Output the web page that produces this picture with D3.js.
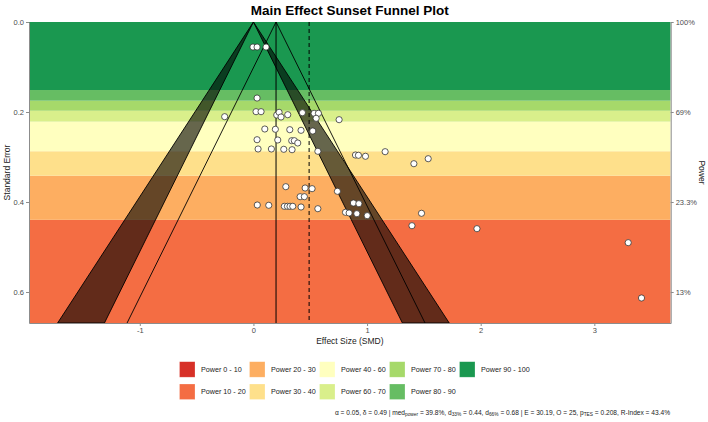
<!DOCTYPE html>
<html><head><meta charset="utf-8">
<script src="https://cdn.jsdelivr.net/npm/d3@7"></script>
<style>
body{margin:0;background:#fff}
svg{display:block;font-family:"Liberation Sans",Arial,Helvetica,sans-serif}
</style>
</head><body>
<svg id="chart" width="708" height="422"></svg>
<script>
// ---------------- data ----------------
const effects = [-0.004,0.032,0.111,0.032,0.023,0.067,-0.253,0.205,0.226,0.243,0.302,0.431,0.534,0.572,0.552,0.754,
  0.100,0.193,0.320,0.419,0.522,0.032,0.214,0.337,0.360,0.390,0.041,0.158,0.267,0.340,0.567,0.898,0.924,0.986,1.159,
  1.412,1.538,0.285,0.455,0.516,0.739,0.411,0.448,0.034,0.135,0.272,0.299,0.322,0.346,0.419,0.567,0.880,0.928,0.810,
  0.842,0.910,1.001,1.479,1.395,1.967,3.298,3.415];
const standardErrors = [0.0556,0.0556,0.0556,0.169,0.1993,0.1993,0.2104,0.2067,0.2007,0.2111,0.206,0.2016,0.2029,0.2029,0.214,0.2171,
  0.2378,0.2384,0.2393,0.2407,0.2422,0.2616,0.2622,0.2638,0.2638,0.2689,0.2822,0.2822,0.2829,0.2838,0.2873,0.2956,0.2962,0.2984,0.2882,
  0.3149,0.3038,0.366,0.3689,0.3704,0.3762,0.3882,0.3882,0.4067,0.4073,0.4096,0.4096,0.4096,0.4096,0.4111,0.4149,0.4022,0.4038,0.4229,
  0.4244,0.426,0.4304,0.4251,0.4527,0.4593,0.4904,0.6133];
const alphaLevel = 0.05;
const trueDelta = 0.49;
const summaryEstimate = 0.199;
const contourZ = [1.959964, 2.575829];
const xTicks = [-1, 0, 1, 2, 3];
const seTicks = [0, 0.2, 0.4, 0.6];
const seTickLabels = ["0.0", "0.2", "0.4", "0.6"];
const powerTickLabels = ["100%", "69%", "23.3%", "13%"];
const bandLabels = ["Power 0 - 10","Power 10 - 20","Power 20 - 30","Power 30 - 40","Power 40 - 60",
  "Power 60 - 70","Power 70 - 80","Power 80 - 90","Power 90 - 100"];
const bandLower = [0, 0.1, 0.2, 0.3, 0.4, 0.6, 0.7, 0.8, 0.9];
const bandUpper = [0.1, 0.2, 0.3, 0.4, 0.6, 0.7, 0.8, 0.9, 1.0];
const bandColors = ["#d73027","#f46d43","#fdae61","#fee08b","#ffffbf","#d9ef8b","#a6d96a","#66bd63","#1a9850"];
const footnote = [
  ["α = 0.05, δ = 0.49 | med", ""], ["power", "sub"], [" = 39.8%, d", ""], ["33%", "sub"], [" = 0.44, d", ""],
  ["66%", "sub"], [" = 0.68 | E = 30.19, O = 25, p", ""], ["TES", "sub"], [" = 0.208, R-Index = 43.4%", ""]
];

// ---------------- helpers ----------------
function erf(x){
  const s = x < 0 ? -1 : 1; x = Math.abs(x);
  const t = 1/(1+0.3275911*x);
  const y = 1 - (((((1.061405429*t - 1.453152027)*t) + 1.421413741)*t - 0.284496736)*t + 0.254829592)*t*Math.exp(-x*x);
  return s*y;
}
const pnorm = x => 0.5*(1+erf(x/Math.SQRT2));
const zcrit = 1.959964;
const power = se => pnorm(trueDelta/se - zcrit) + pnorm(-trueDelta/se - zcrit);
function seAtPower(p){
  if (p >= 1) return 0;
  if (p <= alphaLevel) return Infinity;
  let lo = 1e-6, hi = 100;
  for (let i=0;i<200;i++){ const m=(lo+hi)/2; if (power(m) > p) lo = m; else hi = m; }
  return (lo+hi)/2;
}

// ---------------- layout ----------------
const svg = d3.select("#chart");
const L = 29, R = 670.7, T = 22, B = 323;
const seMax = 0.6689;
const x = d3.scaleLinear().domain([-1.975, 3.672]).range([L, R]);
const y = d3.scaleLinear().domain([0, seMax]).range([T, B]);

const defs = svg.append("defs");
defs.append("clipPath").attr("id","clip").append("rect")
  .attr("x",L).attr("y",T).attr("width",R-L).attr("height",B-T);

const plot = svg.append("g").attr("clip-path","url(#clip)");

// power bands
const bands = bandLabels.map((lab,i)=>({lab, color:bandColors[i],
  se0: seAtPower(bandUpper[i]), se1: Math.min(seAtPower(bandLower[i]), seMax)}));
plot.selectAll("rect.band").data(bands.filter(b=>b.se0 < seMax)).join("rect")
  .attr("class","band")
  .attr("x",L).attr("width",R-L)
  .attr("y",d=>y(d.se0)).attr("height",d=>Math.max(0,y(d.se1)-y(d.se0)))
  .attr("fill",d=>d.color);

// significance contour bands around 0
const sideSigns = [-1, 1];
sideSigns.forEach(s=>{
  const pts = [[0,0],[s*contourZ[0]*seMax,seMax],[s*contourZ[1]*seMax,seMax]];
  plot.append("path")
    .attr("d", d3.line().x(d=>x(d[0])).y(d=>y(d[1]))(pts)+"Z")
    .attr("fill","#000").attr("fill-opacity",0.6)
    .attr("stroke","#000").attr("stroke-width",0.9);
});

// summary funnel
sideSigns.forEach(s=>{
  plot.append("line")
    .attr("x1",x(summaryEstimate)).attr("y1",y(0))
    .attr("x2",x(summaryEstimate + s*zcrit*seMax)).attr("y2",y(seMax))
    .attr("stroke","#000").attr("stroke-width",0.9);
});
plot.append("line").attr("x1",x(summaryEstimate)).attr("x2",x(summaryEstimate))
  .attr("y1",T).attr("y2",B).attr("stroke","#000").attr("stroke-width",1);
plot.append("line").attr("x1",x(trueDelta)).attr("x2",x(trueDelta))
  .attr("y1",T).attr("y2",B).attr("stroke","#000").attr("stroke-width",1)
  .attr("stroke-dasharray","4,3");

// points
const pts = effects.map((e,i)=>({e, se: standardErrors[i]}));
svg.append("g").selectAll("circle").data(pts).join("circle")
  .attr("cx",d=>x(d.e)).attr("cy",d=>y(d.se)).attr("r",3.1)
  .attr("fill","#fff").attr("stroke","#333").attr("stroke-width",0.8);

// axes
const tickColor = "#4d4d4d";
function styleAxis(g){
  g.select(".domain").attr("stroke","#8c8c8c").attr("stroke-width",1);
  g.selectAll(".tick line").attr("stroke","#8c8c8c");
  g.selectAll(".tick text").attr("fill",tickColor).attr("font-size","7.5px");
}
svg.append("g").attr("transform",`translate(${L},0)`)
  .call(d3.axisLeft(y).tickValues(seTicks).tickFormat((d,i)=>seTickLabels[i]).tickSize(3).tickPadding(2).tickSizeOuter(0))
  .call(styleAxis);
svg.append("g").attr("transform",`translate(${R},0)`)
  .call(d3.axisRight(y).tickValues(seTicks).tickFormat((d,i)=>powerTickLabels[i]).tickSize(3).tickPadding(2).tickSizeOuter(0))
  .call(styleAxis);
svg.append("g").attr("transform",`translate(0,${B})`)
  .call(d3.axisBottom(x).tickValues(xTicks).tickFormat(d=>d<0?"-"+Math.abs(d):d).tickSize(3).tickPadding(2).tickSizeOuter(0))
  .call(styleAxis);

// titles
svg.append("text").attr("x",(L+R)/2).attr("y",14.5).attr("text-anchor","middle")
  .attr("font-weight","bold").attr("font-size","13.5px").attr("fill","#000")
  .text("Main Effect Sunset Funnel Plot");
svg.append("text").attr("x",(L+R)/2).attr("y",343.5).attr("text-anchor","middle")
  .attr("font-size","8.5px").attr("fill","#222").text("Effect Size (SMD)");
svg.append("text").attr("transform",`translate(10,${(T+B)/2}) rotate(-90)`).attr("text-anchor","middle")
  .attr("font-size","8.5px").attr("fill","#222").text("Standard Error");
svg.append("text").attr("transform",`translate(698.5,${(T+B)/2}) rotate(90)`).attr("text-anchor","middle")
  .attr("font-size","8.5px").attr("fill","#222").text("Power");

// legend (column-major, 2 rows)
const legend = svg.append("g");
const lgX0 = 179.5, lgDX = 70, lgY0 = 361.7, lgDY = 22.3, key = 15.5;
bands.forEach((b,i)=>{
  const col = Math.floor(i/2), row = i%2;
  const g = legend.append("g").attr("transform",`translate(${lgX0+col*lgDX},${lgY0+row*lgDY})`);
  g.append("rect").attr("width",key).attr("height",key).attr("fill",b.color)
    .attr("stroke","#fff").attr("stroke-opacity",0.4).attr("stroke-width",0.6);
  g.append("text").attr("x",key+6).attr("y",key/2).attr("dy","0.35em")
    .attr("font-size","7.2px").attr("fill","#222").text(b.lab);
});

// footnote
const fn = svg.append("text").attr("x",670).attr("y",415).attr("text-anchor","end")
  .attr("font-size","6.6px").attr("fill","#222");
footnote.forEach(([t,k])=>{
  const ts = fn.append("tspan").text(t);
  if (k==="sub") ts.attr("font-size","4.8px").attr("baseline-shift","-25%");
});
</script>
</body></html>
